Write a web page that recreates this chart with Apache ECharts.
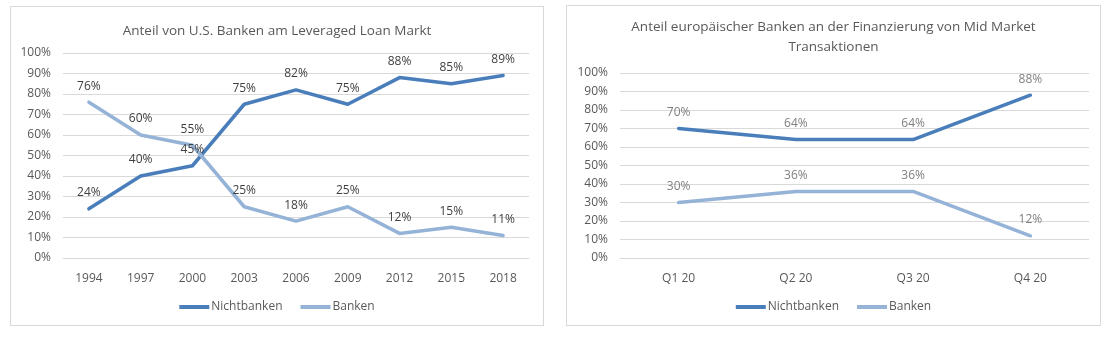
<!DOCTYPE html>
<html><head><meta charset="utf-8">
<script src="https://cdn.jsdelivr.net/npm/echarts@6/dist/echarts.min.js"></script>
<style>
html,body{margin:0;padding:0;background:#fff;width:1112px;height:339px;overflow:hidden;}
.box{position:absolute;border:1px solid #d9d9d9;box-sizing:border-box;background:#fff;}
</style></head><body>
<div id="c1" class="box" style="left:10px;top:6px;width:534px;height:320px;"></div>
<div id="c2" class="box" style="left:566px;top:5px;width:535px;height:321px;"></div>
<script>
const years = ['1994','1997','2000','2003','2006','2009','2012','2015','2018'];
const usNichtbanken = [24,40,45,75,82,75,88,85,89];
const usBanken = [76,60,55,25,18,25,12,15,11];
const quarters = ['Q1 20','Q2 20','Q3 20','Q4 20'];
const euNichtbanken = [70,64,64,88];
const euBanken = [30,36,36,12];
const yTicks = [0,10,20,30,40,50,60,70,80,90,100];

const FONT = '"Open Sans", "Liberation Sans", sans-serif';
const DARK = '#4a7ebb';
const LIGHT = '#95b3d7';

function makeOption(title, cats, s1, s2, grid, labelColor, titleTop) {
  const ser = (name, data, color) => ({
    name, type:'line', data, symbol:'circle', symbolSize:0.01, showSymbol:true, smooth:false,
    lineStyle:{color, width:3.5, cap:'round', join:'round'}, itemStyle:{color},
    label:{show:true, position:'top', distance:10, formatter:p=>p.value+'%',
      color:labelColor, fontFamily:FONT, fontSize:12}
  });
  return {
    animation:false,
    textStyle:{fontFamily:FONT},
    title:{text:title, left:'center', top:titleTop,
      textStyle:{fontFamily:FONT, fontSize:13.5, fontWeight:'normal', color:'#595959', lineHeight:20}},
    legend:{bottom:7, left:'center', icon:'rect', itemWidth:30, itemHeight:4, itemGap:18,
      textStyle:{fontFamily:FONT, fontSize:12, color:'#595959', padding:[0,0,0,-3]},
      data:[{name:'Nichtbanken'},{name:'Banken'}]},
    grid,
    xAxis:{type:'category', data:cats, boundaryGap:true,
      axisLine:{show:true, lineStyle:{color:'#d9d9d9'}}, axisTick:{show:false},
      axisLabel:{color:'#595959', fontFamily:FONT, fontSize:12, margin:15}},
    yAxis:{type:'value', min:0, max:100, interval:10,
      axisLine:{show:false}, axisTick:{show:false},
      splitLine:{lineStyle:{color:'#d9d9d9', width:1}},
      axisLabel:{color:'#595959', fontFamily:FONT, fontSize:12, margin:12,
        formatter:v=> yTicks.includes(v) ? v+'%' : ''}},
    series:[ser('Nichtbanken', s1, DARK), ser('Banken', s2, LIGHT)]
  };
}

const c1 = echarts.init(document.getElementById('c1'), null, {renderer:'canvas'});
c1.setOption(makeOption('Anteil von U.S. Banken am Leveraged Loan Markt', years, usNichtbanken, usBanken,
  {left:52, right:14, top:46, bottom:67}, '#404040', 9));
const c2 = echarts.init(document.getElementById('c2'), null, {renderer:'canvas'});
c2.setOption(makeOption('Anteil europäischer Banken an der Finanzierung von Mid Market\nTransaktionen', quarters, euNichtbanken, euBanken,
  {left:53, right:11, top:67, bottom:67}, '#7f7f7f', 6));
</script>
</body></html>
